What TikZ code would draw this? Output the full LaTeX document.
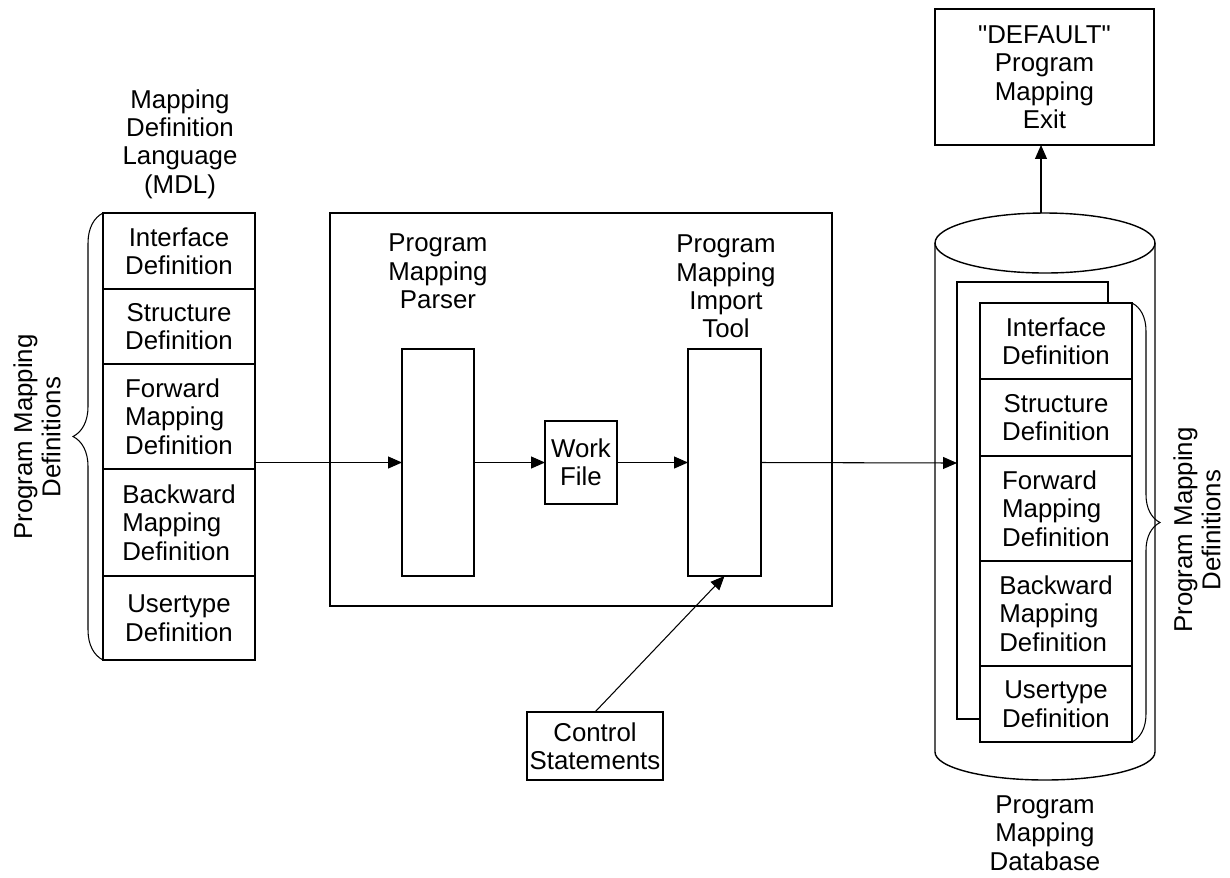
\documentclass[tikz,border=0pt]{standalone}
\usepackage{fontspec}
\setmainfont{Liberation Sans}
\usetikzlibrary{arrows.meta,decorations.pathreplacing}

\begin{document}
\begin{tikzpicture}[x=0.02cm,y=-0.02cm,
    every node/.style={font=\fontsize{14.7pt}{16.2pt}\selectfont, inner sep=0pt, outer sep=0pt},
    box/.style={draw, line width=0.8pt},
    defrow/.style={box, minimum width=3.04cm},
    arr/.style={line width=0.6pt, -{Triangle[length=0.28cm,width=0.24cm]}},
    brc/.style={line width=0.6pt, decorate, decoration={brace, amplitude=#1}}]
  \useasboundingbox (0,0) rectangle (1230,877);

  % left stack
  \node[align=center] (mdl) at (180,144) {Mapping\\Definition\\Language\\(MDL)};
  \foreach \nm/\yc/\h/\al/\txt in {l1/251/76/center/{Interface\\Definition},
      l2/326.5/75/center/{Structure\\Definition},
      l3/416.5/105/left/{Forward\\Mapping\\Definition},
      l4/522.5/107/left/{Backward\\Mapping\\Definition},
      l5/618/84/center/{Usertype\\Definition}}
    \node[defrow, align=\al, minimum height=\h*0.02cm] (\nm) at (179,\yc) {\txt};
  \draw[brc=0.6cm] (l5.south west) -- (l1.north west);
  \node[rotate=90, align=center] (pmdl) at (37,437) {Program Mapping\\Definitions};

  % import utility
  \node[box, minimum width=10.04cm, minimum height=7.86cm] (util) at (581,409.5) {};
  \node[box, minimum width=1.44cm, minimum height=4.54cm] (parser) at (438,462.5) {};
  \node[align=center] (parserlbl) at (438,271.5) {Program\\Mapping\\Parser};
  \node[box, align=center, minimum width=1.44cm, minimum height=1.66cm] (work) at (581,462.5) {Work\\File};
  \node[box, minimum width=1.46cm, minimum height=4.54cm] (imp) at (724.5,462.5) {};
  \node[align=center] (implbl) at (726,286.5) {Program\\Mapping\\Import\\Tool};
  \node[box, align=center, minimum width=2.72cm, minimum height=1.36cm] (ctrl) at (595,746) {Control\\Statements};

  \draw[arr] (l3.east |- parser.west) -- (parser.west);
  \draw[arr] (parser.east) -- (work.west);
  \draw[arr] (work.east) -- (imp.west);
  \draw[arr] (ctrl.north) -- (imp.south);

  % database
  \draw[line width=0.8pt] (1045,243) ellipse [x radius=2.2cm, y radius=0.6cm];
  \draw[line width=0.8pt] (935,243) -- (935,752)
    arc[start angle=180, end angle=360, x radius=2.2cm, y radius=0.56cm] -- (1155,243);
  \draw[line width=0.8pt] (980,719) -- (957,719) -- (957,282) -- (1108,282) -- (1108,303);
  \foreach \nm/\yc/\h/\al/\txt in {r1/341/76/center/{Interface\\Definition},
      r2/417.5/77/center/{Structure\\Definition},
      r3/508.5/105/left/{Forward\\Mapping\\Definition},
      r4/613.5/105/left/{Backward\\Mapping\\Definition},
      r5/704/76/center/{Usertype\\Definition}}
    \node[defrow, align=\al, minimum height=\h*0.02cm] (\nm) at (1056,\yc) {\txt};
  \draw[brc=0.56cm] (r1.north east) -- (r5.south east);
  \node[rotate=90, align=center] (pmdr) at (1197,530) {Program Mapping\\Definitions};
  \node[align=center] (dblbl) at (1045,833) {Program\\Mapping\\Database};
  \coordinate (sheet) at (957,463);
  \coordinate (dbtop) at (1041,213);
  \draw[arr] (imp.east) -- (sheet);

  \node[box, align=center, minimum width=4.38cm, minimum height=2.72cm] (exit) at (1044.5,77) {\textquotedbl DEFAULT\textquotedbl\\Program\\Mapping\\Exit};
  \draw[arr] (dbtop) -- (dbtop |- exit.south);
\end{tikzpicture}
\end{document}
